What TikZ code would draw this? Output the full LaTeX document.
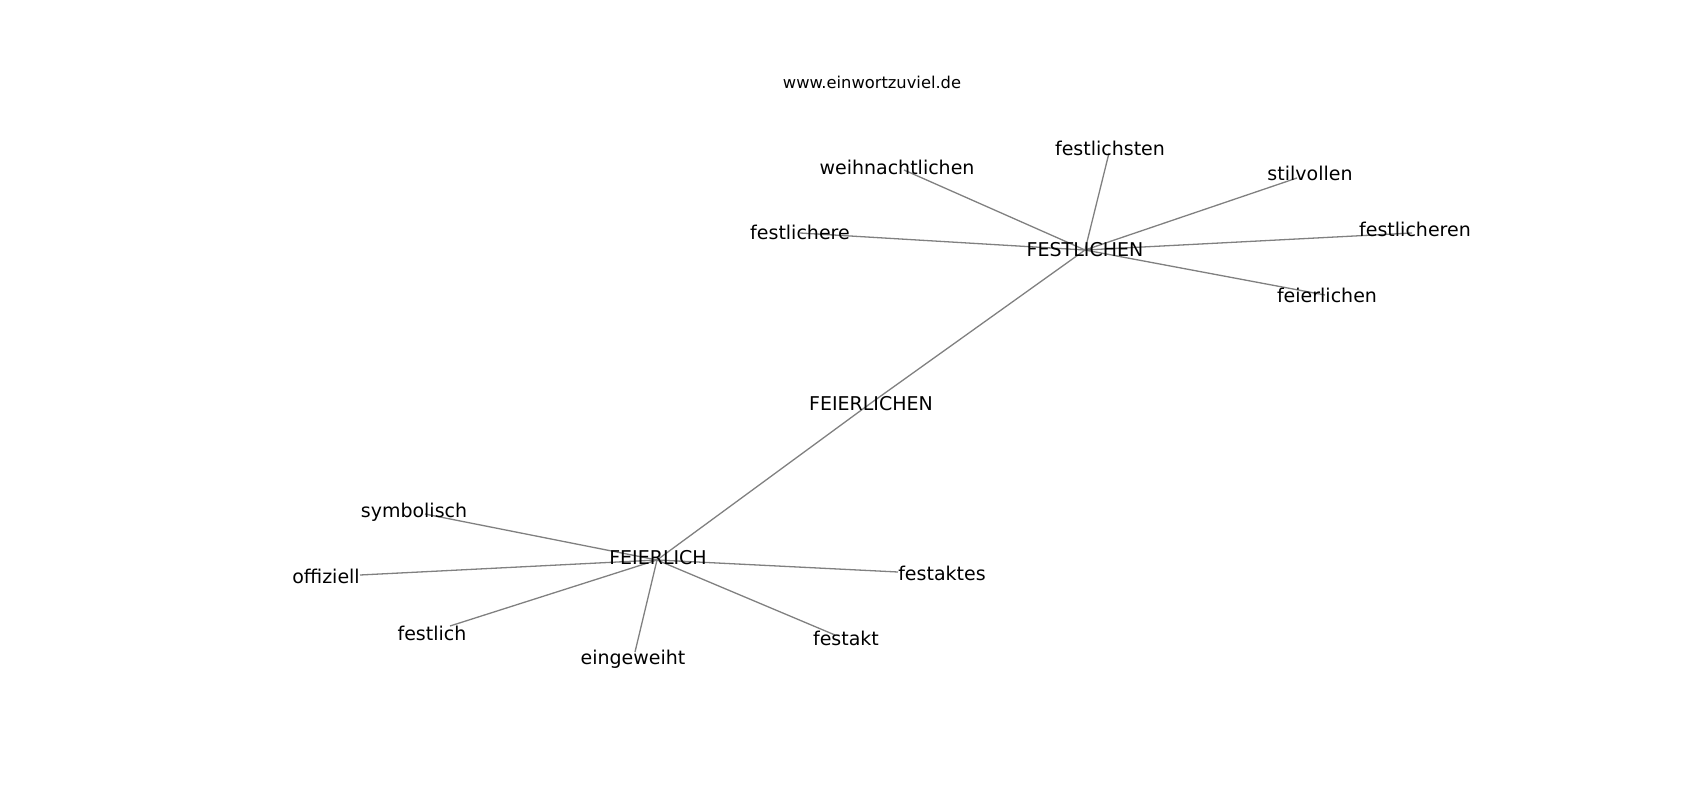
\documentclass[tikz,border=0pt]{standalone}
\usepackage{fontspec}
\setmainfont{DejaVu Sans}
\usepackage{xcolor}
\usepackage{tikz}
\usetikzlibrary{positioning}
\tikzset{word/.style={inner sep=0pt,text height=14pt,text depth=0pt,font=\fontsize{19}{22}\selectfont}}
\tikzset{edge/.style={draw=gray,line width=1.3pt}}

\begin{document}
\begin{tikzpicture}[x=1pt,y=-1pt]
        \useasboundingbox (0,0) rectangle (1700,800);
        \node[inner sep=0pt,font=\fontsize{16.3}{19}\selectfont] (site) at (872,82) {www.einwortzuviel.de};

        \coordinate (festlichen) at (1085,250);
        \coordinate (feierlichen2) at (871,403);
        \coordinate (feierlich) at (657,560);
        \coordinate (weihnachtlichen) at (904,170);
        \coordinate (festlichsten) at (1109,153);
        \coordinate (stilvollen) at (1297,178);
        \coordinate (festlichere) at (800,233);
        \coordinate (festlicheren) at (1412,233);
        \coordinate (feierlichen) at (1325,295);
        \coordinate (symbolisch) at (425,514);
        \coordinate (offiziell) at (360,575);
        \coordinate (festlich) at (450,626);
        \coordinate (eingeweiht) at (635,652);
        \coordinate (festakt) at (835,635);
        \coordinate (festaktes) at (898,572);

        \draw [edge] (festlichen) to [] (weihnachtlichen);
        \draw [edge] (festlichen) to [] (festlichsten);
        \draw [edge] (festlichen) to [] (stilvollen);
        \draw [edge] (festlichen) to [] (festlichere);
        \draw [edge] (festlichen) to [] (festlicheren);
        \draw [edge] (festlichen) to [] (feierlichen);
        \draw [edge] (festlichen) to [] (feierlichen2);
        \draw [edge] (feierlichen2) to [] (feierlich);
        \draw [edge] (feierlich) to [] (symbolisch);
        \draw [edge] (feierlich) to [] (offiziell);
        \draw [edge] (feierlich) to [] (festlich);
        \draw [edge] (feierlich) to [] (eingeweiht);
        \draw [edge] (feierlich) to [] (festakt);
        \draw [edge] (feierlich) to [] (festaktes);

        \node[word] (festlichen-l) at (1085,249) {FESTLICHEN};
        \node[word] (feierlichen2-l) at (871,403) {FEIERLICHEN};
        \node[word] (feierlich-l) at (658,557) {FEIERLICH};
        \node[word] (weihnachtlichen-l) at (897,167) {weihnachtlichen};
        \node[word] (festlichsten-l) at (1110,148) {festlichsten};
        \node[word] (stilvollen-l) at (1310,173) {stilvollen};
        \node[word] (festlichere-l) at (800,232) {festlichere};
        \node[word] (festlicheren-l) at (1415,229) {festlicheren};
        \node[word] (feierlichen-l) at (1327,295) {feierlichen};
        \node[word] (symbolisch-l) at (414,510) {symbolisch};
        \node[word] (offiziell-l) at (326,576) {offiziell};
        \node[word] (festlich-l) at (432,633) {festlich};
        \node[word] (eingeweiht-l) at (633,657) {eingeweiht};
        \node[word] (festakt-l) at (846,638) {festakt};
        \node[word] (festaktes-l) at (942,573) {festaktes};
    \end{tikzpicture}
\end{document}
